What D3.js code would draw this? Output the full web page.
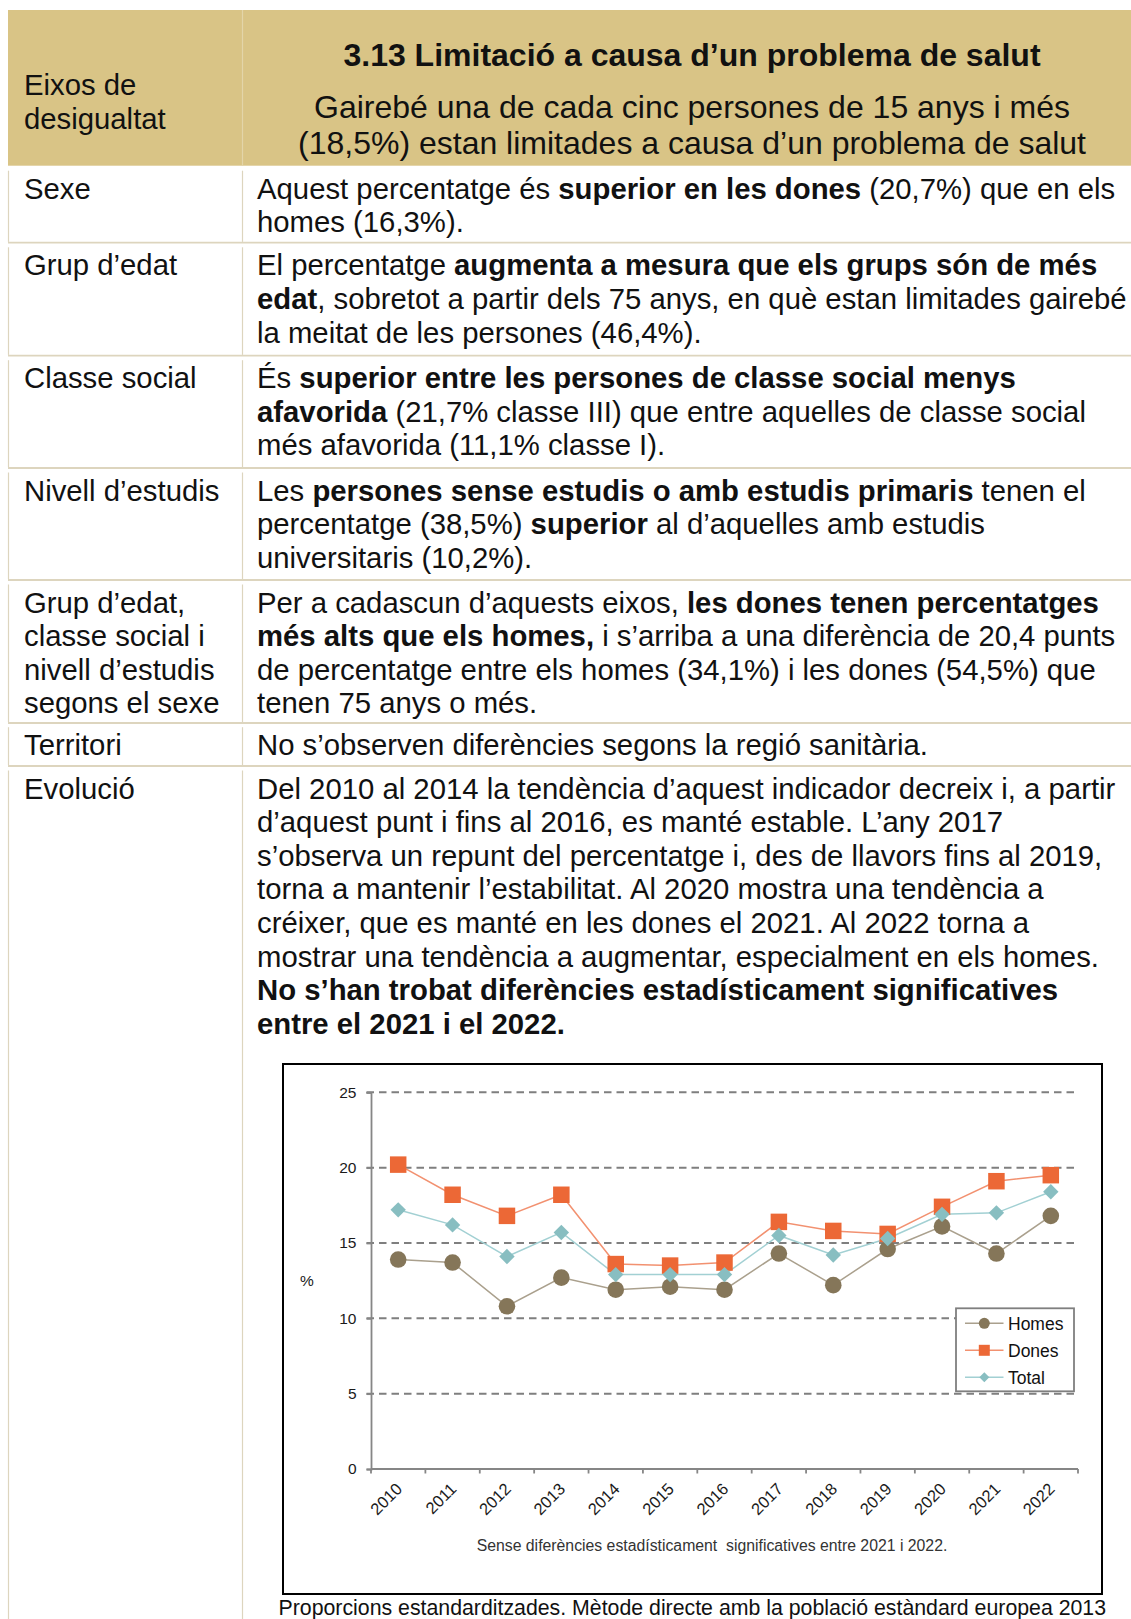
<!DOCTYPE html>
<html>
<head>
<meta charset="utf-8">
<script src="https://cdn.jsdelivr.net/npm/d3@7"></script>
<style>
  html, body { margin: 0; padding: 0; background: #fff; }
  svg { display: block; }
  text { font-family: "Liberation Sans", Arial, sans-serif; }
</style>
</head>
<body>
<svg id="page" width="1131" height="1619"></svg>
<script>
// ---------- DATA ----------
const years = ["2010","2011","2012","2013","2014","2015","2016","2017","2018","2019","2020","2021","2022"];
const homes = [13.9,13.7,10.8,12.7,11.9,12.1,11.9,14.3,12.2,14.6,16.1,14.3,16.8];
const dones = [20.2,18.2,16.8,18.2,13.6,13.5,13.7,16.4,15.8,15.6,17.4,19.1,19.5];
const total = [17.2,16.2,14.1,15.7,12.9,12.9,12.9,15.5,14.2,15.3,16.9,17.0,18.4];
const yTicks = [0,5,10,15,20,25];
const seriesNames = ["Homes","Dones","Total"];

const headerLeft = ["Eixos de","desigualtat"];
const titleText = "3.13 Limitació a causa d’un problema de salut";
const subtitleLines = ["Gairebé una de cada cinc persones de 15 anys i més","(18,5%) estan limitades a causa d’un problema de salut"];

const rowLabels = [
  ["Sexe"],
  ["Grup d’edat"],
  ["Classe social"],
  ["Nivell d’estudis"],
  ["Grup d’edat,","classe social i","nivell d’estudis","segons el sexe"],
  ["Territori"],
  ["Evolució"]
];
// each line: list of [text, bold]
const rowTexts = [
  [
    [["Aquest percentatge és ",0],["superior en les dones",1],[" (20,7%) que en els",0]],
    [["homes (16,3%).",0]]
  ],
  [
    [["El percentatge ",0],["augmenta a mesura que els grups són de més",1]],
    [["edat",1],[", sobretot a partir dels 75 anys, en què estan limitades gairebé",0]],
    [["la meitat de les persones (46,4%).",0]]
  ],
  [
    [["És ",0],["superior entre les persones de classe social menys",1]],
    [["afavorida",1],[" (21,7% classe III) que entre aquelles de classe social",0]],
    [["més afavorida (11,1% classe I).",0]]
  ],
  [
    [["Les ",0],["persones sense estudis o amb estudis primaris",1],[" tenen el",0]],
    [["percentatge (38,5%) ",0],["superior",1],[" al d’aquelles amb estudis",0]],
    [["universitaris (10,2%).",0]]
  ],
  [
    [["Per a cadascun d’aquests eixos, ",0],["les dones tenen percentatges",1]],
    [["més alts que els homes,",1],[" i s’arriba a una diferència de 20,4 punts",0]],
    [["de percentatge entre els homes (34,1%) i les dones (54,5%) que",0]],
    [["tenen 75 anys o més.",0]]
  ],
  [
    [["No s’observen diferències segons la regió sanitària.",0]]
  ],
  [
    [["Del 2010 al 2014 la tendència d’aquest indicador decreix i, a partir",0]],
    [["d’aquest punt i fins al 2016, es manté estable. L’any 2017",0]],
    [["s’observa un repunt del percentatge i, des de llavors fins al 2019,",0]],
    [["torna a mantenir l’estabilitat. Al 2020 mostra una tendència a",0]],
    [["créixer, que es manté en les dones el 2021. Al 2022 torna a",0]],
    [["mostrar una tendència a augmentar, especialment en els homes.",0]],
    [["No s’han trobat diferències estadísticament significatives",1]],
    [["entre el 2021 i el 2022.",1]]
  ]
];
const chartCaption = "Sense diferències estadísticament\u00a0 significatives entre 2021 i 2022.";
const footerText = "Proporcions estandarditzades. Mètode directe amb la població estàndard europea 2013";

// ---------- LAYOUT ----------
const svg = d3.select("#page");
const W = 1131;
const tableLeft = 8, colX = 242.5;
const headerTop = 10, headerBottom = 165.7;
const lineColor = "#ddd5be";
const bodyFont = 29.3, lineH = 33.6;

// header
svg.append("rect").attr("x", tableLeft).attr("y", headerTop)
  .attr("width", W - tableLeft).attr("height", headerBottom - headerTop)
  .attr("fill", "#d9c486");
svg.append("line").attr("x1", colX).attr("x2", colX).attr("y1", headerTop).attr("y2", headerBottom)
  .attr("stroke", "#e3d5a9").attr("stroke-width", 1.2);

svg.selectAll("text.hl").data(headerLeft).join("text").attr("class","hl")
  .attr("x", 24).attr("y", (d,i) => 95 + i*34)
  .attr("font-size", bodyFont).attr("fill", "#111").text(d => d);

const headCx = 692;
svg.append("text").attr("x", headCx).attr("y", 66).attr("text-anchor","middle")
  .attr("font-size", 32).attr("font-weight","bold").attr("fill","#111").text(titleText);
svg.selectAll("text.sub").data(subtitleLines).join("text").attr("class","sub")
  .attr("x", headCx).attr("y", (d,i) => 118 + i*36).attr("text-anchor","middle")
  .attr("font-size", 32).attr("fill","#111").text(d => d);

// rows
const rowTops = [170.7, 247.3, 360.2, 472.5, 584.5, 727.2, 770.5];
const rowSeps = [242.7, 355.7, 468, 580, 723, 766, null];
rowLabels.forEach((lab, r) => {
  const top = rowTops[r];
  const bottom = rowSeps[r] === null ? 1619 : rowSeps[r] - 0.8;
  [tableLeft + 0.5, colX].forEach(xv => {
    svg.append("line").attr("x1", xv).attr("x2", xv).attr("y1", top).attr("y2", bottom)
      .attr("stroke", lineColor).attr("stroke-width", 1.2);
  });
  if (rowSeps[r] !== null) {
    svg.append("line").attr("x1", tableLeft).attr("x2", W).attr("y1", rowSeps[r]).attr("y2", rowSeps[r])
      .attr("stroke", lineColor).attr("stroke-width", 1.8);
  }
  const base = top + 28;
  lab.forEach((t, i) => {
    svg.append("text").attr("x", 24).attr("y", base + i*lineH)
      .attr("font-size", bodyFont).attr("fill","#111").text(t);
  });
  rowTexts[r].forEach((line, i) => {
    const tx = svg.append("text").attr("x", 257).attr("y", base + i*lineH)
      .attr("font-size", bodyFont).attr("fill","#111");
    line.forEach(([s, b]) => {
      tx.append("tspan").attr("font-weight", b ? "bold" : "normal").text(s);
    });
  });
});

// ---------- CHART ----------
const box = {x: 283, y: 1064, w: 819, h: 530};
svg.append("rect").attr("x", box.x).attr("y", box.y).attr("width", box.w).attr("height", box.h)
  .attr("fill", "#fff").attr("stroke", "#000").attr("stroke-width", 2);

const plot = {l: 371, r: 1078, t: 1092.3, b: 1469};
const x = d3.scaleBand().domain(years).range([plot.l, plot.r]).padding(0);
const y = d3.scaleLinear().domain([0, 25]).range([plot.b, plot.t]);
const cx = d => x(d) + x.bandwidth()/2;

const g = svg.append("g");
// gridlines
g.selectAll("line.grid").data(yTicks.filter(v => v > 0)).join("line").attr("class","grid")
  .attr("x1", plot.l - 4.5).attr("x2", plot.r).attr("y1", d => y(d)).attr("y2", d => y(d))
  .attr("stroke", "#7f7f7f").attr("stroke-width", 2).attr("stroke-dasharray", "7.5,5");

// y axis
const yAxis = d3.axisLeft(y).tickValues(yTicks).tickSize(4.5).tickPadding(10).tickFormat(d3.format("d"));
const yg = g.append("g").attr("transform", `translate(${plot.l},0)`).call(yAxis);
yg.select(".domain").attr("stroke", "#868686").attr("stroke-width", 1.8);
yg.selectAll(".tick line").attr("stroke", "#868686").attr("stroke-width", 1.8);
yg.selectAll(".tick text").attr("font-size", 15.5).attr("fill", "#1a1a1a")
  .attr("font-family", "'Liberation Sans', Arial, sans-serif");

// x axis line and boundary ticks
const boundaries = years.map(d => x(d)).concat([plot.r]);
g.append("line").attr("x1", plot.l).attr("x2", plot.r).attr("y1", plot.b).attr("y2", plot.b)
  .attr("stroke", "#868686").attr("stroke-width", 1.8);
g.selectAll("line.xt").data(boundaries).join("line").attr("class","xt")
  .attr("x1", d => d).attr("x2", d => d).attr("y1", plot.b).attr("y2", plot.b + 4.5)
  .attr("stroke", "#868686").attr("stroke-width", 1.8);
g.selectAll("text.xl").data(years).join("text").attr("class","xl")
  .attr("transform", d => `translate(${cx(d) + 5},${plot.b + 21}) rotate(-45)`)
  .attr("text-anchor", "end").attr("font-size", 16.5).attr("fill", "#1a1a1a").text(d => d);

// % label
g.append("text").attr("x", 307).attr("y", 1286).attr("text-anchor","middle")
  .attr("font-size", 15.5).attr("fill", "#1a1a1a").text("%");

// series
const series = [
  {name: seriesNames[0], values: homes, marker: "#857659", line: "#aaa08d", shape: "circle"},
  {name: seriesNames[1], values: dones, marker: "#ec6836", line: "#f29170", shape: "square"},
  {name: seriesNames[2], values: total, marker: "#88bec1", line: "#a2d0d3", shape: "diamond"}
];
const lineGen = d3.line().x((d,i) => cx(years[i])).y(d => y(d));
const symbolPath = {
  circle: d3.symbol().type(d3.symbolCircle).size(Math.PI*8.3*8.3),
  square: d3.symbol().type(d3.symbolSquare).size(16.5*16.5),
  diamond: () => "M0,-7.7L7.7,0L0,7.7L-7.7,0Z"
};
series.forEach(s => {
  g.append("path").datum(s.values).attr("d", lineGen).attr("fill","none")
    .attr("stroke", s.line).attr("stroke-width", 1.5);
});
series.forEach(s => {
  g.selectAll(null).data(s.values).join("path")
    .attr("transform", (d,i) => `translate(${cx(years[i])},${y(d)})`)
    .attr("d", symbolPath[s.shape]())
    .attr("fill", s.marker);
});

// legend
const leg = {x: 956, y: 1308.3, w: 118, h: 83};
g.append("rect").attr("x", leg.x).attr("y", leg.y).attr("width", leg.w).attr("height", leg.h)
  .attr("fill", "#fff").attr("stroke", "#7f7f7f").attr("stroke-width", 1.8);
series.forEach((s, i) => {
  const ly = 1323.3 + i*27;
  g.append("line").attr("x1", 965).attr("x2", 1003.5).attr("y1", ly).attr("y2", ly)
    .attr("stroke", s.line).attr("stroke-width", 1.5);
  const sym = s.shape === "circle" ? d3.symbol().type(d3.symbolCircle).size(Math.PI*5.5*5.5)
            : s.shape === "square" ? d3.symbol().type(d3.symbolSquare).size(11*11)
            : () => "M0,-5L5,0L0,5L-5,0Z";
  g.append("path").attr("transform", `translate(984.3,${ly})`).attr("d", sym()).attr("fill", s.marker);
  g.append("text").attr("x", 1008).attr("y", ly + 6.3).attr("font-size", 17.5).attr("fill", "#111").text(s.name);
});

// caption
g.append("text").attr("x", 712).attr("y", 1551).attr("text-anchor","middle")
  .attr("font-size", 15.8).attr("fill", "#333").text(chartCaption);

// footer
svg.append("text").attr("x", 278.5).attr("y", 1615).attr("font-size", 21.3).attr("fill", "#111").text(footerText);
</script>
</body>
</html>
